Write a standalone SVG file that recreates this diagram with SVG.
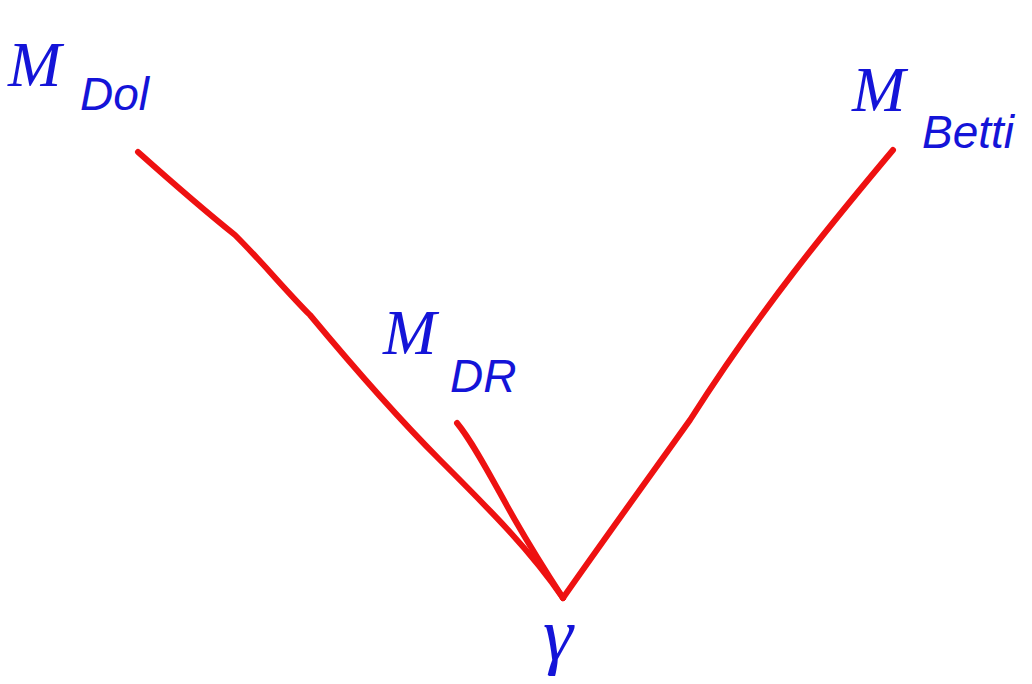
<svg xmlns="http://www.w3.org/2000/svg" width="1032" height="684" viewBox="0 0 1032 684">
<style>
.m{font-family:"Liberation Serif",serif;font-style:italic;fill:#1414d8;font-size:64px}
.s{font-family:"Liberation Sans",sans-serif;font-style:italic;fill:#1414d8;font-size:46px}
.e{fill:none;stroke:#ee1111;stroke-width:6;stroke-linecap:round;stroke-linejoin:round}
</style>
<rect width="1032" height="684" fill="#ffffff"/>
<g id="connectors">
<path class="e" d="M138,152 C175,185 210,215 235,235 C265,265 285,290 310,315 C360,375 400,420 440,460 C490,510 530,550 563,598"/>
<path class="e" d="M457,423 C475,445 495,485 515,520 C535,555 550,578 563,598"/>
<path class="e" d="M893,150 C830,225 760,310 690,420 C640,490 600,545 563,598"/>
</g>
<g id="dol"><text class="m" x="8" y="86">M</text><text class="s" x="80" y="110">Dol</text></g>
<g id="betti"><text class="m" x="852" y="111">M</text><text class="s" x="922" y="148">Betti</text></g>
<g id="dr"><text class="m" x="383" y="354">M</text><text class="s" x="450" y="392">DR</text></g>
<g id="gamma"><text class="m" x="543" y="660" style="font-size:76px">γ</text></g>
</svg>
